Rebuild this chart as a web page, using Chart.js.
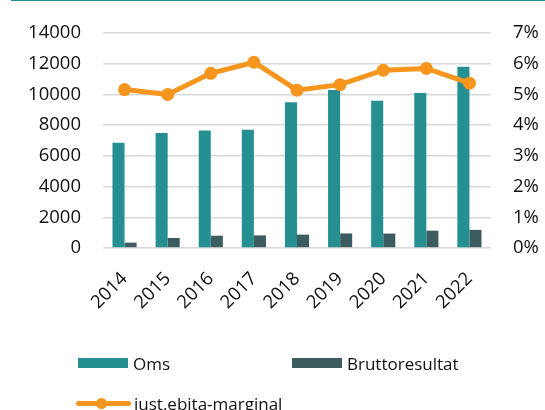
<!DOCTYPE html>
<html>
<head>
<meta charset="utf-8">
<script src="https://cdn.jsdelivr.net/npm/chart.js@4/dist/chart.umd.min.js"></script>
<style>
  html, body { margin: 0; padding: 0; background: #fff; }
  #wrap { position: relative; width: 545px; height: 410px; overflow: hidden; font-family: "Open Sans", sans-serif; }
  #topline { position: absolute; left: 11px; top: 0; width: 534px; height: 1px; background: #268f91; }
  canvas { position: absolute; left: 0; top: 0; }
  .leg { position: absolute; display: flex; align-items: center; font-size: 17px; color: #111; white-space: nowrap; height: 24px; }
  .sw { display: inline-block; }
</style>
</head>
<body>
<div id="wrap">
  <div id="topline"></div>
  <canvas id="c" width="545" height="410"></canvas>
  <div id="legend"></div>
</div>
<script>
const categories = ["2014","2015","2016","2017","2018","2019","2020","2021","2022"];
const omsValues = [6850, 7500, 7650, 7700, 9500, 10300, 9600, 10100, 11800];
const bruttoValues = [350, 650, 800, 820, 870, 950, 940, 1130, 1180];
const ebitaMargin = [5.16, 5.0, 5.69, 6.05, 5.14, 5.32, 5.79, 5.85, 5.37];
const leftTicks = [0, 2000, 4000, 6000, 8000, 10000, 12000, 14000];
const rightTicks = [0, 1, 2, 3, 4, 5, 6, 7];
const seriesNames = ["Oms", "Bruttoresultat", "just.ebita-marginal"];

const C_OMS = "#268f91", C_BRUTTO = "#3d5c60", C_LINE = "#f7961f";
const FONT = "'Open Sans', sans-serif";

const chart = new Chart(document.getElementById("c"), {
  type: "bar",
  data: {
    labels: categories,
    datasets: [
      { type: "line", label: seriesNames[2], data: ebitaMargin, yAxisID: "yR",
        borderColor: C_LINE, backgroundColor: C_LINE, borderWidth: 5,
        pointRadius: 6.5, pointHoverRadius: 6.5, pointBackgroundColor: C_LINE, pointBorderWidth: 0,
        tension: 0, order: 0 },
      { label: seriesNames[0], data: omsValues, backgroundColor: C_OMS, yAxisID: "yL",
        categoryPercentage: 0.56, barPercentage: 1.0, order: 1 },
      { label: seriesNames[1], data: bruttoValues, backgroundColor: C_BRUTTO, yAxisID: "yL",
        categoryPercentage: 0.56, barPercentage: 1.0, order: 1 }
    ]
  },
  options: {
    responsive: false,
    animation: false,
    layout: { padding: { top: 30, left: 0, right: 0, bottom: 0 } },
    plugins: { legend: { display: false }, tooltip: { enabled: false } },
    scales: {
      x: {
        offset: true,
        grid: { display: false, drawTicks: false },
        border: { display: false },
        ticks: { minRotation: 45, maxRotation: 45, padding: 20, color: "#111", font: { family: FONT, size: 18.5 } },
        afterFit: s => { s.height = 162; }
      },
      yL: {
        position: "left", min: 0, max: 14000,
        afterBuildTicks: s => { s.ticks = leftTicks.map(v => ({ value: v })); },
        grid: { color: "#d9d9d9", lineWidth: 1.6, drawTicks: false },
        border: { display: false },
        ticks: { padding: 22, color: "#111", font: { family: FONT, size: 18.5 }, callback: v => String(v) },
        afterFit: s => { s.width = 103; }
      },
      yR: {
        position: "right", min: 0, max: 7,
        afterBuildTicks: s => { s.ticks = rightTicks.map(v => ({ value: v })); },
        grid: { display: false, drawTicks: false },
        border: { display: false },
        ticks: { padding: 22, color: "#111", font: { family: FONT, size: 18.5 }, callback: v => v + "%" },
        afterFit: s => { s.width = 54; }
      }
    }
  }
});

// HTML legend built from the chart's datasets
const legend = document.getElementById("legend");
const items = [
  { ds: chart.data.datasets[1], left: 78, top: 351, kind: "box" },
  { ds: chart.data.datasets[2], left: 292, top: 351, kind: "box" },
  { ds: chart.data.datasets[0], left: 76, top: 391, kind: "line" }
];
items.forEach(it => {
  const d = document.createElement("div");
  d.className = "leg";
  d.style.left = it.left + "px";
  d.style.top = it.top + "px";
  const sw = document.createElement("span");
  sw.className = "sw";
  if (it.kind === "box") {
    sw.style.cssText = `width:50px;height:10px;background:${it.ds.backgroundColor};margin-right:5px;`;
  } else {
    sw.style.cssText = `position:relative;width:55px;height:5px;background:${it.ds.borderColor};border-radius:3px;margin-right:3px;`;
    const dot = document.createElement("span");
    dot.style.cssText = `position:absolute;left:20px;top:-3px;width:11px;height:11px;border-radius:50%;background:${it.ds.borderColor};`;
    sw.appendChild(dot);
  }
  const t = document.createElement("span");
  t.textContent = it.ds.label;
  d.appendChild(sw);
  d.appendChild(t);
  legend.appendChild(d);
});
</script>
</body>
</html>
